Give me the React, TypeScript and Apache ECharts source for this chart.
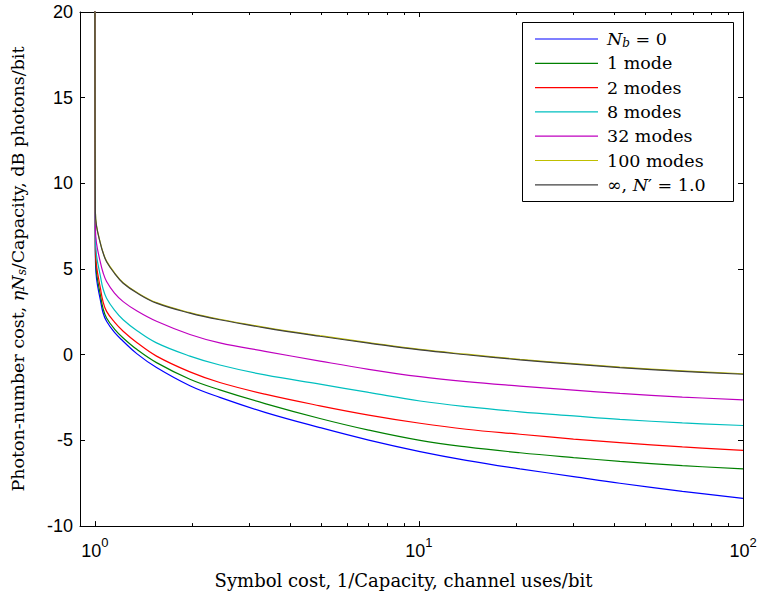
import React, { useEffect, useRef } from 'react';
import * as echarts from 'echarts';

// Symbol cost (1/Capacity, channel uses/bit) sample positions
const symbolCost = [1.0, 1.004, 1.012, 1.04, 1.06, 1.087, 1.15, 1.223, 1.35, 1.55, 1.965, 2.43, 3.35, 4.95, 7.0, 10.08, 14, 20.5, 30, 41.7, 65, 100];

// Photon-number cost (dB photons/bit) per curve
const nb0 = [22, 5.8, 4.45, 3.2, 2.45, 1.95, 1.3, 0.79, 0.05, -0.75, -1.81, -2.49, -3.36, -4.25, -4.98, -5.65, -6.16, -6.66, -7.11, -7.5, -7.97, -8.38];
const mode1 = [22, 6.1, 4.8, 3.5, 2.7, 2.14, 1.5, 0.98, 0.3, -0.46, -1.43, -2.05, -2.85, -3.72, -4.4, -5.0, -5.38, -5.72, -6.0, -6.22, -6.47, -6.66];
const modes2 = [22, 6.4, 5.2, 3.9, 3.1, 2.53, 1.9, 1.37, 0.7, -0.08, -1.0, -1.62, -2.3, -2.98, -3.52, -4.0, -4.35, -4.64, -4.92, -5.13, -5.38, -5.58];
const modes8 = [22, 6.9, 5.8, 4.6, 3.85, 3.3, 2.6, 2.04, 1.4, 0.69, -0.08, -0.6, -1.18, -1.72, -2.2, -2.7, -3.03, -3.33, -3.57, -3.77, -3.98, -4.13];
const modes32 = [22, 7.4, 6.5, 5.4, 4.8, 4.27, 3.6, 3.1, 2.55, 1.95, 1.18, 0.69, 0.2, -0.37, -0.85, -1.28, -1.57, -1.83, -2.07, -2.26, -2.47, -2.63];
const modes100 = [22, 8.33, 7.53, 6.53, 5.98, 5.46, 4.78, 4.2, 3.63, 3.04, 2.46, 2.07, 1.6, 1.11, 0.71, 0.31, 0.03, -0.27, -0.52, -0.72, -0.94, -1.11];
const infinite = [22, 8.3, 7.5, 6.5, 5.95, 5.43, 4.75, 4.17, 3.6, 3.01, 2.43, 2.04, 1.57, 1.08, 0.68, 0.28, 0.0, -0.3, -0.55, -0.75, -0.97, -1.14];

const seriesNames = ['Nb=0', '1 mode', '2 modes', '8 modes', '32 modes', '100 modes', 'inf'];
const seriesValues = [nb0, mode1, modes2, modes8, modes32, modes100, infinite];
const seriesColors = ['#0000ff', '#008000', '#ff0000', '#00bfbf', '#bf00bf', '#bfbf00', '#404040'];
const legendLabels: Record<string, string> = {
  'Nb=0': '{i|N}{sub|b} = 0',
  '1 mode': '1 mode',
  '2 modes': '2 modes',
  '8 modes': '8 modes',
  '32 modes': '32 modes',
  '100 modes': '100 modes',
  'inf': '∞, {i|N}\u2032 = 1.0',
};

const majorXTicks = [1, 10, 100];
const minorXTicks = [2, 3, 4, 5, 6, 7, 8, 9, 20, 30, 40, 50, 60, 70, 80, 90];
const yMin = -10;
const yMax = 20;
const yStep = 5;

const SERIF = '"DejaVu Serif", serif';
const SANS = '"Liberation Sans", Arial, sans-serif';
const SERIF_SIZE = 17.5;

function logAxis(position: 'top' | 'bottom', ticks: number[], len: number, labels: boolean, line: boolean) {
  return {
    type: 'log',
    logBase: 10,
    min: 0.9,
    max: 100,
    position,
    axisLine: { show: line, onZero: false, lineStyle: { color: '#000', width: 1 } },
    axisTick: { show: true, inside: true, length: len, customValues: ticks, lineStyle: { color: '#000', width: 1 } },
    axisLabel: labels
      ? {
          show: true,
          customValues: ticks,
          margin: 10,
          color: '#000',
          fontFamily: SANS,
          fontSize: 18,
          lineHeight: 30,
          formatter: (v: number) => `10{sup|${Math.round(Math.log10(v))}}`,
          rich: {
            sup: { fontFamily: SANS, fontSize: 13, lineHeight: 10, verticalAlign: 'top', color: '#000' },
          },
        }
      : { show: false },
    splitLine: { show: false },
    minorTick: { show: false },
  };
}

const richText = {
  i: { fontFamily: SERIF, fontStyle: 'italic', fontSize: SERIF_SIZE, lineHeight: 20, color: '#000' },
  sub: { fontFamily: SERIF, fontStyle: 'italic', fontSize: 12, lineHeight: 10, verticalAlign: 'bottom', color: '#000' },
};

export default function App() {
  const ref = useRef<HTMLDivElement>(null);
  useEffect(() => {
    const chart = echarts.init(ref.current!, null, { renderer: 'svg' });
    const option: any = {
      animation: false,
      backgroundColor: '#fff',
      grid: { left: 79, right: 19, top: 12, bottom: 64, containLabel: false },
      xAxis: [
        {
          ...logAxis('bottom', majorXTicks, 5, true, true),
          name: 'Symbol cost, 1/Capacity, channel uses/bit',
          nameLocation: 'middle',
          nameGap: 42,
          nameTextStyle: { fontFamily: SERIF, fontSize: 18, color: '#000', verticalAlign: 'top', padding: [0, 16, 0, 0] },
        },
        logAxis('bottom', minorXTicks, 3, false, false),
        logAxis('top', majorXTicks, 5, false, true),
        logAxis('top', minorXTicks, 3, false, false),
      ],
      yAxis: [
        {
          type: 'value',
          min: yMin,
          max: yMax,
          interval: yStep,
          position: 'left',
          axisLine: { show: true, onZero: false, lineStyle: { color: '#000', width: 1 } },
          axisTick: { show: true, inside: true, length: 5, lineStyle: { color: '#000' } },
          axisLabel: { show: true, margin: 7, color: '#000', fontFamily: SANS, fontSize: 18 },
          splitLine: { show: false },
          name: 'Photon-number cost, {i|ηN}{sub|s}/Capacity, dB photons/bit',
          nameLocation: 'middle',
          nameGap: 52,
          nameTextStyle: {
            fontFamily: SERIF,
            fontSize: SERIF_SIZE,
            color: '#000',
            lineHeight: 20,
            rich: richText,
          },
        },
        {
          type: 'value',
          min: yMin,
          max: yMax,
          interval: yStep,
          position: 'right',
          axisLine: { show: true, onZero: false, lineStyle: { color: '#000', width: 1 } },
          axisTick: { show: true, inside: true, length: 5, lineStyle: { color: '#000' } },
          axisLabel: { show: false },
          splitLine: { show: false },
        },
      ],
      legend: {
        data: seriesNames,
        orient: 'vertical',
        left: 535,
        top: 29,
        padding: 0,
        itemWidth: 63,
        itemHeight: 1.2,
        itemGap: 4.3,
        icon: 'rect',
        z: 10,
        selectedMode: false,
        formatter: (name: string) => legendLabels[name],
        textStyle: {
          fontFamily: SERIF,
          fontSize: SERIF_SIZE,
          color: '#000',
          lineHeight: 20,
          padding: [0, 0, 0, 4],
          rich: richText,
        },
      },
      graphic: [
        {
          type: 'rect',
          left: 522,
          top: 22,
          z: 5,
          shape: { width: 211, height: 179 },
          style: { fill: '#fff', stroke: '#000', lineWidth: 1 },
        },
      ],
      series: seriesNames.map((name, k) => ({
        name,
        type: 'line',
        xAxisIndex: 0,
        yAxisIndex: 0,
        data: symbolCost.map((x, i) => [x, seriesValues[k][i]]),
        showSymbol: false,
        symbol: 'none',
        smooth: 0.4,
        clip: true,
        color: seriesColors[k],
        lineStyle: { color: seriesColors[k], width: 1.2 },
        z: 2,
      })),
    };
    chart.setOption(option);
    return () => chart.dispose();
  }, []);
  return <div ref={ref} style={{ position: 'absolute', left: 0, top: 0, width: 762, height: 594 }} />;
}
